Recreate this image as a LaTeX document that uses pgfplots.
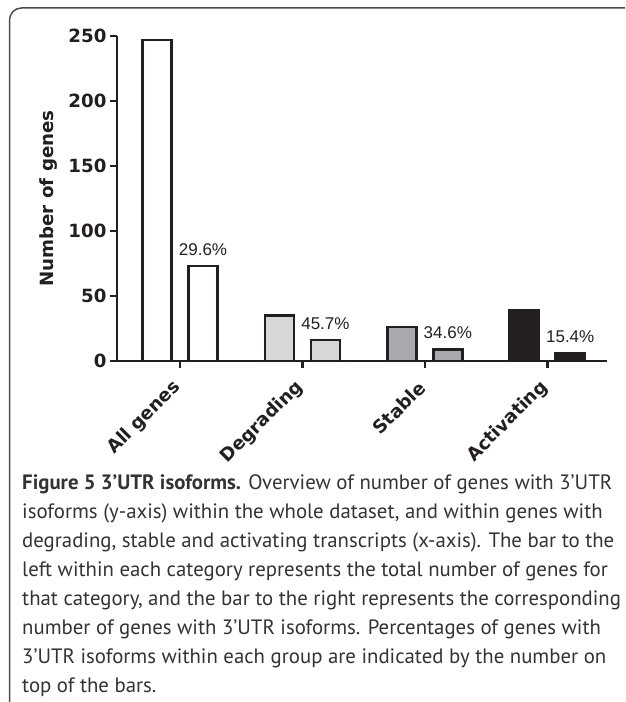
\documentclass[border=0pt]{standalone}
\usepackage{fontspec}
\usepackage{pgfplots}
\pgfplotsset{compat=1.18}
\setmainfont{Liberation Sans}
\newfontfamily\chartfont{DejaVu Sans}
\newfontfamily\pctfont{Liberation Sans}
\newfontfamily\capfont{PT Sans}

\definecolor{ink}{HTML}{231F20}
\definecolor{lightbar}{HTML}{D6D7D9}
\definecolor{midbar}{HTML}{A8A9AC}
\definecolor{darkbar}{HTML}{231F20}

\begin{document}
\begin{tikzpicture}
\useasboundingbox (0,0) rectangle (625pt,702pt);
% frame of the figure box
\draw[line width=1.5pt, black!70] (9.5pt,0pt) -- (9.5pt,682pt)
  arc[start angle=180, end angle=90, radius=12pt] -- (625pt,694pt);

\begin{axis}[
  at={(180pt,341pt)}, anchor=origin,
  x=122.4pt, y=1.3pt,
  xmin=-0.515, xmax=3.49,
  ymin=0, ymax=250,
  axis x line*=bottom, axis y line*=left,
  axis line style={line width=2.8pt, ink},
  tick align=outside,
  major tick length=7pt,
  tick style={line width=2.6pt, ink},
  xtick={0,1,2,3},
  xticklabels={All genes, Degrading, Stable, Activating},
  ytick={0,50,...,250},
  /pgf/number format/assume math mode=true,
  ticklabel style={font=\chartfont\bfseries\fontsize{18.2}{22}\selectfont, text=ink},
  xticklabel style={yshift=-14pt, rotate=45, anchor=east},
  ylabel={Number of genes},
  ylabel style={font=\chartfont\bfseries\fontsize{18.2}{22}\selectfont, text=ink,
    at={(axis description cs:-0.139,0.5)}, anchor=center},
  ybar, bar width=29pt,
  every axis plot/.append style={draw=ink, line width=2.6pt},
  every node near coord/.append style={font=\pctfont\fontsize{17}{20}\selectfont,
    text=ink, yshift=6pt},
  clip=false,
]
% All genes
\addplot[fill=white, bar shift=-23pt] coordinates {(0,247)};
\addplot[fill=white, bar shift=23pt, nodes near coords, point meta=explicit symbolic]
  coordinates {(0,73) [29.6\%]};
% Degrading
\addplot[fill=lightbar, bar shift=-23pt] coordinates {(1,35)};
\addplot[fill=lightbar, bar shift=23pt, nodes near coords, point meta=explicit symbolic]
  coordinates {(1,16) [45.7\%]};
% Stable
\addplot[fill=midbar, bar shift=-23pt] coordinates {(2,26)};
\addplot[fill=midbar, bar shift=23pt, nodes near coords, point meta=explicit symbolic]
  coordinates {(2,9) [34.6\%]};
% Activating
\addplot[fill=darkbar, bar shift=-23pt] coordinates {(3,39)};
\addplot[fill=darkbar, bar shift=23pt, nodes near coords, point meta=explicit symbolic]
  coordinates {(3,6) [15.4\%]};
\end{axis}

\node[anchor=north west, inner sep=0pt, align=left, text=black!80,
  font=\capfont\fontsize{20.8}{29}\selectfont] at (22pt,228pt)
  {\textbf{Figure 5 3’UTR isoforms.} Overview of number of genes with 3’UTR\\
   isoforms (y-axis) within the whole dataset, and within genes with\\
   degrading, stable and activating transcripts (x-axis). The bar to the\\
   left within each category represents the total number of genes for\\
   that category, and the bar to the right represents the corresponding\\
   number of genes with 3’UTR isoforms. Percentages of genes with\\
   3’UTR isoforms within each group are indicated by the number on\\
   top of the bars.};
\end{tikzpicture}
\end{document}
